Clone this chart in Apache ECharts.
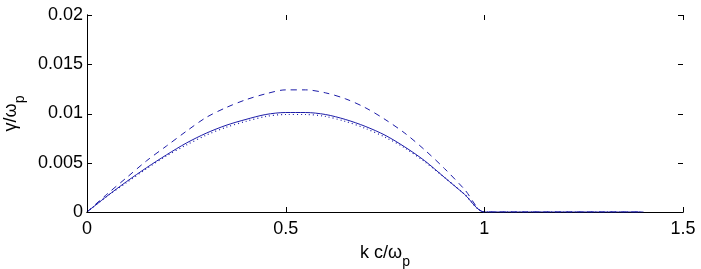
<!DOCTYPE html>
<html>
<head>
<meta charset="utf-8">
<script src="https://cdn.jsdelivr.net/npm/echarts@6/dist/echarts.min.js"></script>
<style>
html,body{margin:0;padding:0;background:#fff;}
#c{width:701px;height:269px;}
</style>
</head>
<body>
<div id="c"></div>
<script>
// k c / omega_p
var kValues = [0, 0.05, 0.1, 0.15, 0.2, 0.25, 0.3, 0.35, 0.4, 0.45, 0.5, 0.55, 0.6, 0.65, 0.7, 0.75, 0.8, 0.85, 0.9, 0.95, 1.0, 1.05, 1.1, 1.15, 1.2, 1.25, 1.3, 1.35, 1.4];
// gamma / omega_p
var solidValues  = [0, 0.0016, 0.0031, 0.0045, 0.0058, 0.0070, 0.0080, 0.0088, 0.0094, 0.0099, 0.0101, 0.0101, 0.0099, 0.0094, 0.0087, 0.0078, 0.0066, 0.0052, 0.0035, 0.0018, 0, 0, 0, 0, 0, 0, 0, 0, 0];
var dashedValues = [0, 0.0018, 0.0035, 0.0052, 0.0067, 0.0082, 0.0096, 0.0106, 0.0114, 0.0120, 0.0124, 0.0124, 0.0121, 0.0115, 0.0106, 0.0094, 0.0080, 0.0063, 0.0044, 0.0023, 0, 0, 0, 0, 0, 0, 0, 0, 0];
var dottedValues = [0, 0.0016, 0.0030, 0.0044, 0.0057, 0.0068, 0.0078, 0.0086, 0.0092, 0.0097, 0.0099, 0.0099, 0.0097, 0.0092, 0.0085, 0.0076, 0.0065, 0.0051, 0.0035, 0.0018, 0, 0, 0, 0, 0, 0, 0, 0, 0];
var xTicks = [0, 0.5, 1, 1.5];
var yTicks = [0, 0.005, 0.01, 0.015, 0.02];

function pairs(ys) { return kValues.map(function (k, i) { return [k, ys[i]]; }); }

var X_MIN = xTicks[0], X_MAX = xTicks[xTicks.length - 1];
var Y_MIN = yTicks[0], Y_MAX = yTicks[yTicks.length - 1];
var FONT = 'Liberation Sans, Arial, Helvetica, sans-serif';
var BLUE = '#1c1ca8';
var TICK_LEN = 5;
var nameRich = {
  n: { fontSize: 18, fontFamily: FONT, color: '#000' },
  s: { fontSize: 14, fontFamily: FONT, color: '#000', padding: [18, 0, 0, 0] }
};
var chart = echarts.init(document.getElementById('c'), null, { renderer: 'canvas' });
var axisLine = { show: true, lineStyle: { color: '#000', width: 1 } };
var tickStyle = { stroke: '#000', lineWidth: 1 };

function xTickItem(params, api) {
  var v = api.value(0);
  var b = api.coord([v, Y_MIN]);
  var t = api.coord([v, Y_MAX]);
  var x = Math.round(b[0]) + 0.5;
  return { type: 'group', children: [
    { type: 'line', shape: { x1: x, y1: b[1], x2: x, y2: b[1] - TICK_LEN }, style: tickStyle },
    { type: 'line', shape: { x1: x, y1: t[1], x2: x, y2: t[1] + TICK_LEN }, style: tickStyle }
  ] };
}
function yTickItem(params, api) {
  var v = api.value(1);
  var l = api.coord([X_MIN, v]);
  var r = api.coord([X_MAX, v]);
  var y = Math.round(l[1]) + 0.5;
  return { type: 'group', children: [
    { type: 'line', shape: { x1: l[0], y1: y, x2: l[0] + TICK_LEN, y2: y }, style: tickStyle },
    { type: 'line', shape: { x1: r[0], y1: y, x2: r[0] - TICK_LEN, y2: y }, style: tickStyle }
  ] };
}

chart.setOption({
  animation: false,
  backgroundColor: '#fff',
  grid: { left: 87, right: 18, top: 15, bottom: 57, containLabel: false, outerBoundsMode: 'none' },
  xAxis: [{
    type: 'value', min: X_MIN, max: X_MAX, interval: 0.5,
    position: 'bottom',
    axisLine: axisLine,
    axisTick: { show: false },
    axisLabel: { color: '#000', fontSize: 18, fontFamily: FONT, margin: 8 },
    splitLine: { show: false },
    name: '{n|k c/ω}{s|p}', nameLocation: 'middle', nameGap: 25,
    nameTextStyle: { rich: nameRich }
  }, {
    type: 'value', min: X_MIN, max: X_MAX, interval: 0.5,
    position: 'top',
    axisLine: axisLine,
    axisTick: { show: false },
    axisLabel: { show: false },
    splitLine: { show: false }
  }],
  yAxis: [{
    type: 'value', min: Y_MIN, max: Y_MAX, interval: 0.005,
    position: 'left',
    axisLine: axisLine,
    axisTick: { show: false },
    axisLabel: { color: '#000', fontSize: 18, fontFamily: FONT, margin: 4 },
    splitLine: { show: false },
    name: '{n|γ/ω}{s|p}', nameLocation: 'middle', nameGap: 54, nameRotate: 90,
    nameTextStyle: { rich: nameRich }
  }, {
    type: 'value', min: Y_MIN, max: Y_MAX, interval: 0.005,
    position: 'right',
    axisLine: axisLine,
    axisTick: { show: false },
    axisLabel: { show: false },
    splitLine: { show: false }
  }],
  series: [{
    type: 'custom', renderItem: xTickItem, clip: false, silent: true, z: 10,
    data: xTicks.map(function (v) { return [v, Y_MIN]; })
  }, {
    type: 'custom', renderItem: yTickItem, clip: false, silent: true, z: 10,
    data: yTicks.map(function (v) { return [X_MIN, v]; })
  }, {
    type: 'line', data: pairs(dashedValues), showSymbol: false, smooth: 0.3,
    lineStyle: { color: BLUE, width: 1, type: [6, 5] }, z: 3
  }, {
    type: 'line', data: pairs(solidValues), showSymbol: false, smooth: 0.3,
    lineStyle: { color: BLUE, width: 1, type: 'solid' }, z: 4
  }, {
    type: 'line', data: pairs(dottedValues), showSymbol: false, smooth: 0.3,
    lineStyle: { color: BLUE, width: 1.2, type: [1, 3] }, z: 5
  }]
});
</script>
</body>
</html>
